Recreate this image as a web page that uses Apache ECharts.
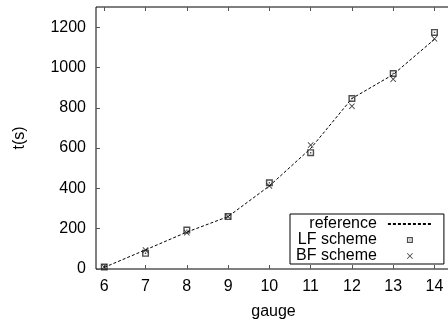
<!DOCTYPE html>
<html><head><meta charset="utf-8">
<script src="https://cdn.jsdelivr.net/npm/echarts@6/dist/echarts.min.js"></script>
<style>html,body{margin:0;padding:0;background:#fff}#c{width:448px;height:322px}</style>
</head><body><div id="c"></div>
<script>
const gauges = [6, 7, 8, 9, 10, 11, 12, 13, 14];
const referenceT = [8, 95, 183, 260, 412, 598, 846, 965, 1140];
const lfSchemeT = [10, 78, 193, 260, 428, 577, 846, 970, 1174];
const bfSchemeT = [10, 94, 180, 260, 412, 615, 808, 942, 1142];
const xTicks = [6, 7, 8, 9, 10, 11, 12, 13, 14];
const yTicks = [0, 200, 400, 600, 800, 1000, 1200];

const FONT = 'Liberation Sans';
const pair = (ys) => gauges.map((g, i) => [g, ys[i]]);
const squareSym = 'path://M0,0H10V10H0Z M2,2V8H8V2Z M4,4H6V6H4Z';
const crossSym = 'path://M0,1L1,0L5,4L9,0L10,1L6,5L10,9L9,10L5,6L1,10L0,9L4,5Z';

const chart = echarts.init(document.getElementById('c'), null, {renderer: 'canvas'});
chart.setOption({
  animation: false,
  textStyle: {fontFamily: FONT},
  grid: {left: 96, top: 7, right: -3, bottom: 53, containLabel: false, outerBoundsMode: 'none',
    show: true, borderColor: '#000', borderWidth: 1, backgroundColor: 'transparent'},
  xAxis: [{
    type: 'value', position: 'bottom', min: 5.8, max: 14.4,
    name: 'gauge', nameLocation: 'middle', nameGap: 35,
    nameTextStyle: {fontFamily: FONT, fontSize: 16, color: '#000'},
    axisLine: {show: false},
    axisTick: {show: true, inside: true, length: 4, customValues: xTicks, lineStyle: {color: '#555'}},
    axisLabel: {customValues: xTicks, fontFamily: FONT, fontSize: 16, color: '#000', margin: 10},
    splitLine: {show: false}
  }, {
    type: 'value', position: 'top', min: 5.8, max: 14.4,
    axisLine: {show: false},
    axisTick: {show: true, inside: true, length: 4, customValues: xTicks, lineStyle: {color: '#555'}},
    axisLabel: {show: false},
    splitLine: {show: false}
  }],
  yAxis: {
    type: 'value', min: 0, max: 1300,
    name: 't(s)', nameLocation: 'middle', nameGap: 68,
    nameTextStyle: {fontFamily: FONT, fontSize: 16, color: '#000'},
    axisLine: {show: false},
    axisTick: {show: true, inside: true, length: 4, customValues: yTicks, lineStyle: {color: '#555'}},
    axisLabel: {customValues: yTicks, formatter: (v) => String(v), fontFamily: FONT, fontSize: 16, color: '#000', margin: 10},
    splitLine: {show: false}
  },
  legend: {
    orient: 'vertical', align: 'right', left: 290, top: 214,
    padding: [2, 11, 0, 6], borderColor: '#000', borderWidth: 1, backgroundColor: '#fff',
    itemWidth: 44, itemHeight: 6, itemGap: 0,
    textStyle: {fontFamily: FONT, fontSize: 16, color: '#000', padding: [0, 6, 0, 0]},
    data: [
      {name: 'reference', itemStyle: {color: 'rgba(0,0,0,0)', borderWidth: 0}},
      'LF scheme', 'BF scheme'
    ]
  },
  series: [{
    name: 'reference', type: 'line', data: pair(referenceT), showSymbol: false, symbol: 'none',
    lineStyle: {color: '#000', width: 1, type: [3, 2]}, itemStyle: {color: '#000'}, z: 2
  }, {
    name: 'LF scheme', type: 'scatter', data: pair(lfSchemeT), symbol: squareSym, symbolSize: 7,
    itemStyle: {color: '#222'}, z: 3
  }, {
    name: 'BF scheme', type: 'scatter', data: pair(bfSchemeT), symbol: crossSym, symbolSize: 6,
    itemStyle: {color: '#111'}, z: 3
  }]
});
</script></body></html>
